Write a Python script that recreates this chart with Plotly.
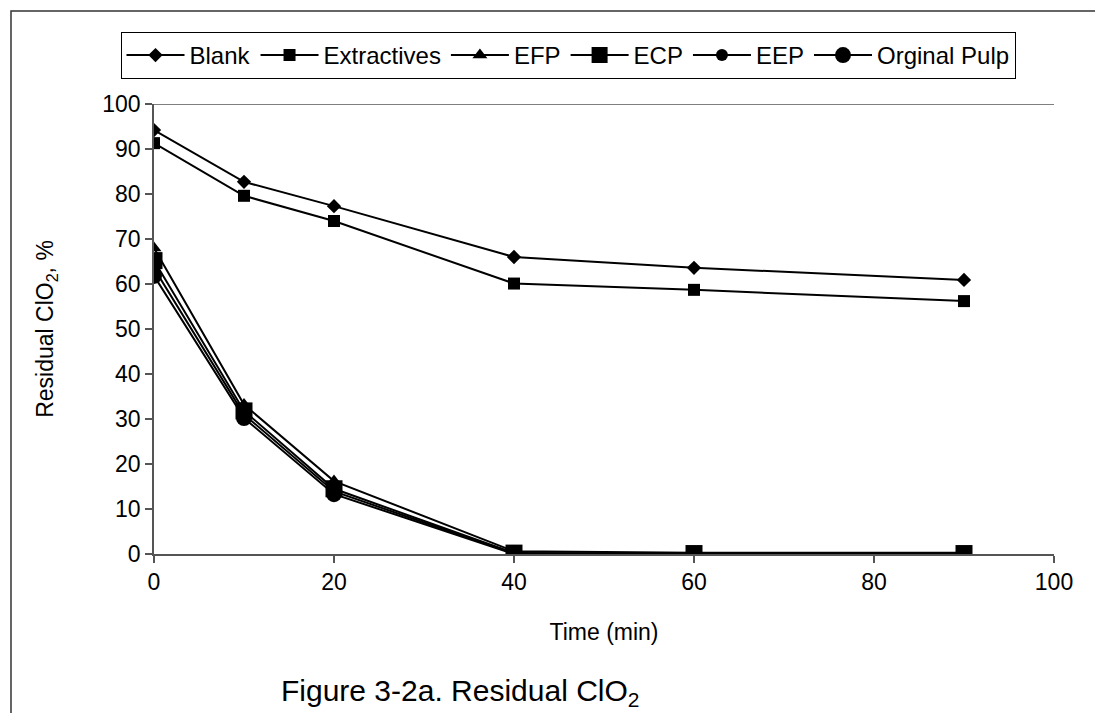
import plotly.graph_objects as go

time_min = [0, 10, 20, 40, 60, 90]
blank = [94.2, 82.7, 77.3, 66.0, 63.6, 60.9]
extractives = [91.3, 79.6, 74.0, 60.1, 58.7, 56.2]
efp = [68.0, 33.2, 16.2, 0.6, 0.3, 0.3]
ecp = [65.2, 31.8, 14.5, 0.2, 0.1, 0.1]
eep = [63.5, 31.0, 13.9, 0.1, 0.0, 0.0]
orginal_pulp = [61.8, 30.2, 13.3, 0.0, 0.0, 0.0]

series = [
    ("Blank", blank, "diamond", 11),
    ("Extractives", extractives, "square", 12),
    ("EFP", efp, "triangle-up", 13),
    ("ECP", ecp, "square", 17),
    ("EEP", eep, "circle", 12),
    ("Orginal Pulp", orginal_pulp, "circle", 16),
]

FONT = "Liberation Sans, Arial, sans-serif"

fig = go.Figure()
for name, vals, sym, sz in series:
    fig.add_trace(go.Scatter(
        x=time_min, y=vals, name=name, mode="lines+markers",
        line=dict(color="black", width=2),
        marker=dict(symbol=sym, size=sz, color="black"),
    ))

W, H = 1103, 713
L, R, T, B = 146, 1046, 96, 546
pw, ph = R - L, B - T

def px_x(p):
    return (p - L) / pw

def px_y(p):
    return (B - p) / ph

fig.update_layout(
    width=W, height=H,
    margin=dict(l=L, r=W - R, t=T, b=H - B),
    paper_bgcolor="white", plot_bgcolor="white",
    font=dict(family=FONT, size=23, color="black"),
    showlegend=True,
    legend=dict(
        orientation="h", xref="container", yref="container",
        x=560 / W, xanchor="center", y=1 - 24 / H, yanchor="top",
        bordercolor="black", borderwidth=1, font=dict(size=24),
        itemwidth=58, tracegroupgap=0,
    ),
    xaxis=dict(
        range=[0, 100], tickvals=[0, 20, 40, 60, 80, 100],
        showgrid=False, zeroline=False, showline=True, linecolor="#555555", linewidth=1.5,
        ticks="outside", ticklen=7, tickcolor="#555555", tickwidth=1.5,
        title=dict(text="Time (min)", standoff=30, font=dict(size=23)),
    ),
    yaxis=dict(
        range=[0, 100], tickvals=list(range(0, 101, 10)),
        showgrid=False, zeroline=False, showline=True, linecolor="#555555", linewidth=1.5,
        ticks="outside", ticklen=7, tickcolor="#555555", tickwidth=1.5,
        title=dict(text="Residual ClO<sub>2</sub>, %", standoff=42, font=dict(size=23)),
    ),
    shapes=[
        dict(type="line", xref="x", yref="y", x0=0, x1=100, y0=100, y1=100,
             line=dict(color="#555555", width=1.5)),
        dict(type="rect", xref="paper", yref="paper",
             x0=px_x(3), x1=px_x(1100), y0=px_y(711), y1=px_y(3),
             line=dict(color="#333333", width=1.5)),
    ],
    annotations=[
        dict(text="Figure 3-2a. Residual ClO<sub>2</sub>", xref="paper", yref="paper",
             x=px_x(452), y=px_y(684), xanchor="center", yanchor="middle",
             showarrow=False, font=dict(size=30)),
    ],
)

fig.write_html("out.html")
